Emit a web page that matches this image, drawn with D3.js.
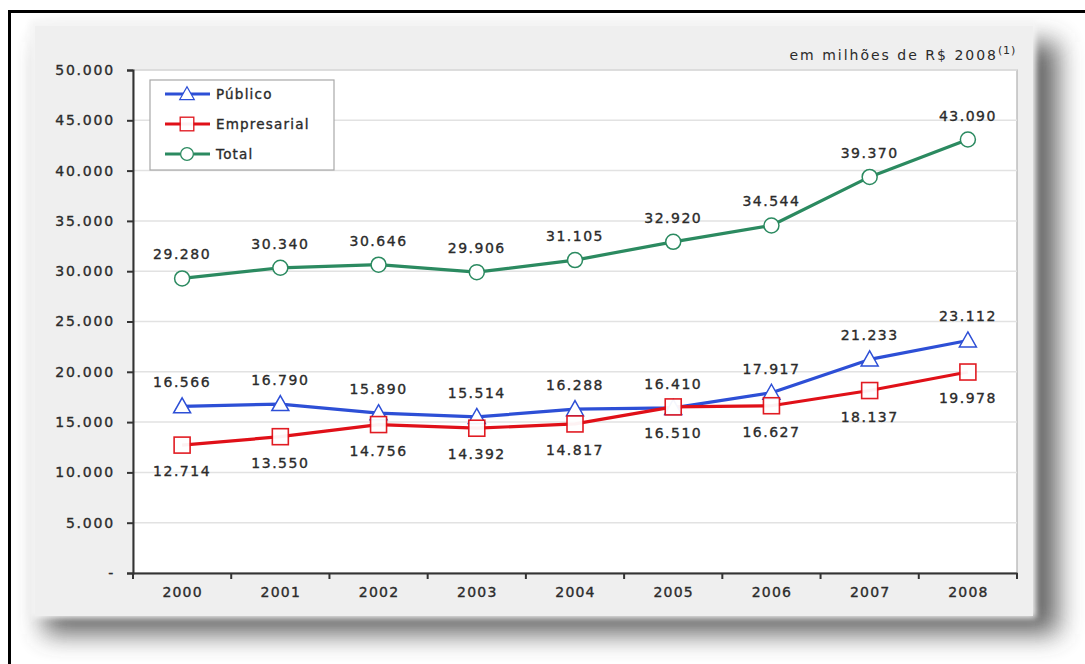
<!DOCTYPE html>
<html>
<head>
<meta charset="utf-8">
<script src="https://cdn.jsdelivr.net/npm/d3@7/dist/d3.min.js"></script>
<style>
  html, body { margin: 0; padding: 0; background: #ffffff; }
  svg { display: block; }
  text { font-family: "DejaVu Sans", Verdana, sans-serif; fill: #2b2b2b; }
  .lbl { stroke: #2b2b2b; stroke-width: 0.35px; }
</style>
</head>
<body>
<svg id="chart" width="1085" height="664"></svg>
<script>
// Investment in R&D, public vs business, in millions of R$ (2008 prices)
const years = ["2000", "2001", "2002", "2003", "2004", "2005", "2006", "2007", "2008"];
const publico = [16566, 16790, 15890, 15514, 16288, 16410, 17917, 21233, 23112];
const empresarial = [12714, 13550, 14756, 14392, 14817, 16510, 16627, 18137, 19978];
const total = [29280, 30340, 30646, 29906, 31105, 32920, 34544, 39370, 43090];
const yTicks = [0, 5000, 10000, 15000, 20000, 25000, 30000, 35000, 40000, 45000, 50000];
const seriesNames = ["Público", "Empresarial", "Total"];
const unitLabel = "em milhões de R$ 2008";
const unitNote = "(1)";

const br = d3.formatLocale({ decimal: ",", thousands: ".", grouping: [3], currency: ["R$", ""] });
const fmt = br.format(",d");

const svg = d3.select("#chart");
const defs = svg.append("defs");
const blur = defs.append("filter").attr("id", "shadow")
  .attr("x", "-10%").attr("y", "-10%").attr("width", "120%").attr("height", "130%");
blur.append("feGaussianBlur").attr("stdDeviation", 13);
const soft = defs.append("filter").attr("id", "soft")
  .attr("x", "-5%").attr("y", "-5%").attr("width", "110%").attr("height", "110%");
soft.append("feGaussianBlur").attr("stdDeviation", 3);

// outer frame
svg.append("rect").attr("x", 9.5).attr("y", 11.5).attr("width", 1100).attr("height", 700)
  .attr("fill", "#fff").attr("stroke", "#000").attr("stroke-width", 3);

// panel with drop shadow
svg.append("rect").attr("x", 44).attr("y", 42).attr("width", 1014).attr("height", 592)
  .attr("fill", "#4a4a4a").attr("opacity", 0.85).attr("filter", "url(#shadow)");
svg.append("rect").attr("x", 30).attr("y", 20).attr("width", 1006).attr("height", 598)
  .attr("fill", "#f4f4f4").attr("filter", "url(#soft)");
svg.append("rect").attr("x", 35).attr("y", 26).attr("width", 998).attr("height", 590)
  .attr("fill", "#efefef");

const plotL = 133, plotR = 1017, plotT = 70, plotB = 573;
const x = d3.scalePoint().domain(years).range([plotL, plotR]).padding(0.5);
const y = d3.scaleLinear().domain([0, 50000]).range([plotB, plotT]);
const step = x.step();

// plot background
svg.append("rect").attr("x", plotL).attr("y", plotT).attr("width", plotR - plotL).attr("height", plotB - plotT)
  .attr("fill", "#ffffff").attr("stroke", "#b0b0b0").attr("stroke-width", 1.2);

// gridlines
svg.append("g").selectAll("line").data(yTicks.filter(d => d > 0)).join("line")
  .attr("x1", plotL).attr("x2", plotR)
  .attr("y1", d => y(d)).attr("y2", d => y(d))
  .attr("stroke", "#e2e2e2").attr("stroke-width", 1.5);

// y axis
const yAxis = svg.append("g").attr("transform", `translate(${plotL},0)`)
  .call(d3.axisLeft(y).tickValues(yTicks).tickSize(6).tickPadding(12)
    .tickFormat(d => d === 0 ? "-" : fmt(d)));
yAxis.select(".domain").attr("stroke", "#333").attr("stroke-width", 2);
yAxis.selectAll(".tick line").attr("stroke", "#333").attr("stroke-width", 2);
yAxis.selectAll(".tick text").attr("class", "lbl").style("font-size", "14px").style("letter-spacing", "1.8px")
  .attr("fill", "#2b2b2b");

// x axis with ticks on category boundaries
const xAxis = svg.append("g").attr("transform", `translate(0,${plotB})`)
  .call(d3.axisBottom(x).tickSize(0).tickPadding(14));
xAxis.select(".domain").attr("stroke", "#333").attr("stroke-width", 2);
xAxis.selectAll(".tick text").attr("class", "lbl").style("font-size", "14px").style("letter-spacing", "1.2px")
  .attr("fill", "#2b2b2b");
const bounds = years.map(d => x(d) - step / 2).concat([x(years[years.length - 1]) + step / 2]);
svg.append("g").selectAll("line").data(bounds).join("line")
  .attr("x1", d => d).attr("x2", d => d).attr("y1", plotB).attr("y2", plotB + 6)
  .attr("stroke", "#333").attr("stroke-width", 2);

// unit label
const unit = svg.append("text").attr("x", 1016).attr("y", 60).attr("text-anchor", "end")
  .style("font-size", "14px").style("letter-spacing", "2px");
unit.append("tspan").text(unitLabel);
unit.append("tspan").text(unitNote).attr("dy", -6).style("font-size", "11px").style("letter-spacing", "0.8px");

const series = [
  { name: seriesNames[0], values: publico, color: "#2d4fd6", shape: "triangle", labelDy: -19 },
  { name: seriesNames[1], values: empresarial, color: "#e01018", shape: "square", labelDy: 31 },
  { name: seriesNames[2], values: total, color: "#2b8a60", shape: "circle", labelDy: -19 }
];

function drawMarker(g, shape, color) {
  if (shape === "triangle") {
    g.append("path").attr("d", "M0,-8.5 L8.5,6.5 L-8.5,6.5 Z")
      .attr("fill", "#fff").attr("stroke", color).attr("stroke-width", 1.5);
  } else if (shape === "square") {
    g.append("rect").attr("x", -8).attr("y", -8).attr("width", 16).attr("height", 16)
      .attr("fill", "#fff").attr("stroke", color).attr("stroke-width", 1.6).attr("opacity", 0.95);
  } else {
    g.append("circle").attr("r", 7.5)
      .attr("fill", "#fff").attr("stroke", color).attr("stroke-width", 1.5);
  }
}

const line = d3.line().x((d, i) => x(years[i])).y(d => y(d));

series.forEach(s => {
  svg.append("path").datum(s.values).attr("d", line)
    .attr("fill", "none").attr("stroke", s.color).attr("stroke-width", 3.2)
    .attr("stroke-linejoin", "round");
});
series.forEach(s => {
  s.values.forEach((v, i) => {
    const g = svg.append("g").attr("transform", `translate(${x(years[i])},${y(v)})`);
    drawMarker(g, s.shape, s.color);
  });
});
series.forEach(s => {
  svg.append("g").selectAll("text").data(s.values).join("text")
    .attr("class", "lbl")
    .attr("x", (d, i) => x(years[i]))
    .attr("y", d => y(d) + s.labelDy)
    .attr("text-anchor", "middle")
    .style("font-size", "14px").style("letter-spacing", "1.5px")
    .text(d => fmt(d));
});

// legend
const lg = svg.append("g");
lg.append("rect").attr("x", 150).attr("y", 80).attr("width", 184).attr("height", 90)
  .attr("fill", "#ffffff").attr("stroke", "#a8a8a8").attr("stroke-width", 1.2);
series.forEach((s, i) => {
  const yy = 94 + i * 30;
  lg.append("line").attr("x1", 165).attr("x2", 210).attr("y1", yy).attr("y2", yy)
    .attr("stroke", s.color).attr("stroke-width", 3);
  const m = lg.append("g").attr("transform", `translate(187,${yy}) scale(0.85)`);
  drawMarker(m, s.shape, s.color);
  lg.append("text").attr("class", "lbl").attr("x", 216).attr("y", yy + 5)
    .style("font-size", "13.5px").style("letter-spacing", "1.2px")
    .text(s.name);
});
</script>
</body>
</html>
